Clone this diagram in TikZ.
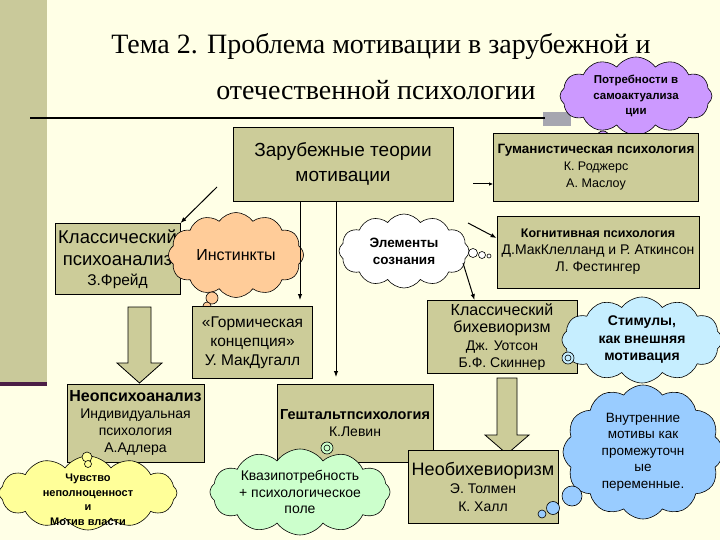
\documentclass[tikz,border=0pt]{standalone}
\usepackage{fontspec}
\setmainfont{Liberation Sans}
\newfontfamily\titlefont{Liberation Serif}
\usetikzlibrary{shapes.symbols,arrows.meta}
\definecolor{bg}{HTML}{FFFFE6}
\definecolor{stripe}{HTML}{C9C99A}
\definecolor{darkline}{HTML}{4B1E46}
\definecolor{boxc}{HTML}{CCCC99}
\definecolor{grayr}{HTML}{A6A6B0}
\definecolor{peach}{HTML}{FFCC99}
\definecolor{lcyan}{HTML}{C6EEFF}
\definecolor{lblue}{HTML}{99CCFF}
\definecolor{lyellow}{HTML}{FFFF99}
\definecolor{lgreen}{HTML}{CCFFCC}
\definecolor{lpurple}{HTML}{CC99FF}
\newcommand\fsz[2]{\fontsize{#1}{#2}\selectfont}
\begin{document}
\begin{tikzpicture}[x=1pt,y=-1pt,
  box/.style={draw=black, fill=boxc, line width=0.8pt, inner sep=0pt, align=center},
  cl/.style={cloud, cloud puffs=12, cloud puff arc=110, cloud ignores aspect, draw=black, line width=0.6pt, align=center, inner sep=0pt},
  bub/.style={draw=black, line width=0.6pt},
  arr/.style={draw=black, line width=1pt, -{Latex[length=6pt,width=4.5pt]}},
  blk/.style={draw=black, fill=boxc, line width=0.8pt}]
\useasboundingbox (0,0) rectangle (720,540);
\fill[bg] (0,0) rectangle (720,540);
\fill[stripe] (0,0) rectangle (47,382);
\fill[darkline] (0,382) rectangle (47,386);

% title
\node[font=\titlefont\fsz{28}{32}] (t1) at (381,47) {Тема 2. Проблема мотивации в зарубежной и};
\node[font=\titlefont\fsz{28}{32}] (t2) at (376,90) {отечественной психологии};
\fill[grayr] (543,112) rectangle (571,126);
\draw[line width=2pt] (30,118) -- (545,118);

% purple cloud
\node[cl, fill=lpurple, minimum width=152pt, minimum height=78pt, font=\bfseries\fsz{11.5}{15.5}] (pc) at (636,96) {Потребности в\\самоактуализа\\ции};
\draw[bub, fill=lpurple] (603,137) circle (6pt);
\draw[bub] (603,137) circle (3pt);

% boxes
\node[box, minimum width=220pt, minimum height=74pt, font=\fsz{19}{25}] (B1) at (343,164) {Зарубежные теории\\мотивации};
\node[box, minimum width=205pt, minimum height=68pt, font=\fsz{12.5}{17}] (B2) at (596,167) {\textbf{\fsz{13.5}{17}Гуманистическая психология}\\К. Роджерс\\А. Маслоу};
\coordinate (a3) at (473,184);
\draw[line width=1pt, -{Latex[length=4pt,width=3.5pt]}] (a3) -- (B2.west |- a3);

\node[box, minimum width=125pt, minimum height=71pt, font=\fsz{18.5}{22}] (B3) at (117.5,259) {Классический\\психоанализ\\[-2pt]{\fsz{15.5}{18}З.Фрейд}};
\coordinate (a0) at (217,187);
\draw[arr] (a0) -- (B3.north east);

\node[cl, fill=peach, minimum width=135pt, minimum height=85pt, font=\fsz{16}{18}] (C1) at (236,255) {Инстинкты};
\draw[bub, fill=peach] (212,298) circle (6pt);
\draw[bub, fill=peach] (207,306) circle (4pt);

\node[box, minimum width=120pt, minimum height=72pt, font=\fsz{15.5}{19}] (B5) at (252.5,342.5) {«Гормическая\\концепция»\\У. МакДугалл};

\coordinate (v1) at (300,300);
\draw[arr] (B1.south -| v1) -- (v1);

\node[cl, fill=white, minimum width=130pt, minimum height=74pt, font=\bfseries\fsz{13.5}{17}] (C2) at (404,251) {Элементы\\сознания};
\draw[bub, fill=white] (473,253) circle (4.5pt);
\draw[bub, fill=white] (482,255) circle (3.5pt);
\draw[bub, fill=white] (489,256) circle (2pt);

\node[box, minimum width=202pt, minimum height=72pt, font=\fsz{14}{17}] (B7) at (598,252) {\textbf{\fsz{12.5}{17}Когнитивная психология}\\Д.МакКлелланд и Р. Аткинсон\\Л. Фестингер};
\coordinate (a1) at (468,223);
\coordinate (a1e) at (497,238);
\draw[arr] (a1) -- (B7.west |- a1e);

\node[box, minimum width=150pt, minimum height=73pt, font=\fsz{16}{17.5}] (B8) at (502,337) {Классический\\бихевиоризм\\{\fsz{14}{16.5}Дж. Уотсон}\\{\fsz{14}{16.5}Б.Ф. Скиннер}};
\coordinate (a2) at (463,263);
\coordinate (a2e) at (474.5,300);
\draw[arr] (a2) -- (B8.north -| a2e);

\node[box, minimum width=156pt, minimum height=78pt, font=\fsz{14}{17}] (B14) at (355,423) {\textbf{\fsz{14.5}{17}Гештальтпсихология}\\К.Левин};
\coordinate (v2) at (336,377);
\draw[arr] (B1.south -| v2) -- (v2);

\node[cl, fill=lcyan, minimum width=160pt, minimum height=86pt, font=\bfseries\fsz{14}{17.5}] (C3) at (642,340) {Стимулы,\\как внешняя\\мотивация};
\draw[bub, fill=lcyan] (568,358) circle (6pt);
\draw[bub] (568,358) circle (3pt);

% block arrows
\draw[blk] (128,307) -- (151,307) -- (151,363) -- (162,363) -- (139.5,383) -- (117,363) -- (128,363) -- cycle;
\draw[blk] (497,378) -- (517,378) -- (517,435) -- (529,435) -- (507,454) -- (485,435) -- (497,435) -- cycle;

% lower boxes
\node[box, minimum width=137pt, minimum height=78pt, font=\fsz{14}{17}] (B12) at (135.5,423) {\textbf{\fsz{16}{17}Неопсихоанализ}\\Индивидуальная\\психология\\А.Адлера};

\node[box, minimum width=150pt, minimum height=73pt, font=\fsz{14}{18}] (B15) at (483,486.5) {{\fsz{18}{18}Необихевиоризм}\\Э. Толмен\\К. Халл};

% clouds bottom
\node[cl, fill=lyellow, minimum width=178pt, minimum height=74pt] (C4) at (88,493) {};
\node[font=\bfseries\fsz{11}{14.5}, align=center, inner sep=0pt] (C4t) at (88,500) {Чувство\\неполноценност\\и\\Мотив власти};
\draw[bub, fill=lyellow] (87,457) circle (5pt);
\draw[bub, fill=lyellow] (88,464) circle (3.5pt);

\node[cl, fill=lgreen, minimum width=180pt, minimum height=86pt, font=\fsz{14}{16.5}] (C5) at (300,492) {Квазипотребность\\+ психологическое\\поле};
\draw[bub, fill=lgreen] (327,448) circle (6pt);
\draw[bub] (327,448) circle (3pt);

\node[cl, fill=lblue, minimum width=160pt, minimum height=134pt, font=\fsz{13.5}{16.5}] (C6) at (643,452) {Внутренние\\мотивы как\\промежуточн\\ые\\переменные.};
\draw[bub, fill=lblue] (572,496) circle (10pt);
\draw[bub, fill=lblue] (553,508) circle (6.5pt);
\draw[bub, fill=lblue] (542,514) circle (4pt);
\end{tikzpicture}
\end{document}
